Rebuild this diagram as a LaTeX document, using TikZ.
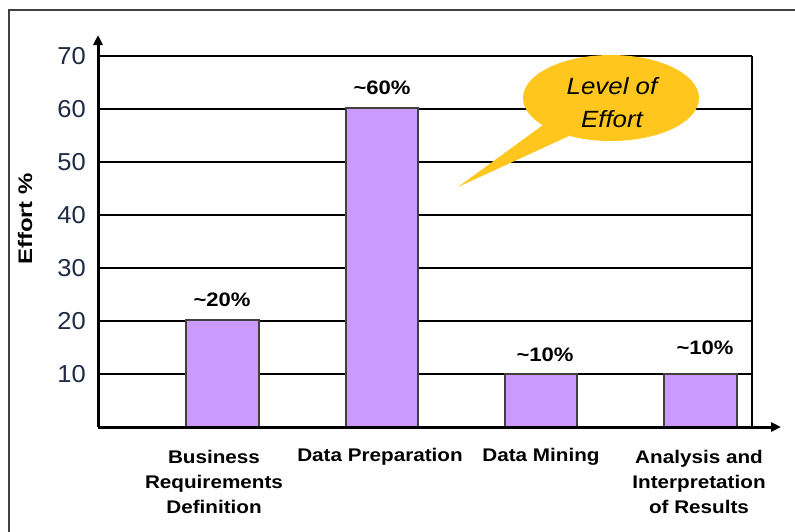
\documentclass[tikz,border=0pt]{standalone}
\usepackage{fontspec}
\setmainfont{Liberation Sans}
\newfontfamily\lblf{Liberation Sans}[FakeStretch=1.13]
\newfontfamily\tickf{Liberation Sans}[FakeStretch=1.04]
\newfontfamily\efff{Liberation Sans}[FakeStretch=1.22]
\newfontfamily\bubf{Liberation Sans}[FakeStretch=1.1]
\usetikzlibrary{arrows.meta}
\definecolor{barfill}{HTML}{CC99FF}
\definecolor{bubble}{HTML}{FFC61E}
\definecolor{ticktext}{HTML}{1F2A44}
\definecolor{frame}{HTML}{404040}
\tikzset{
  grid/.style={line width=2.2pt,black},
  axisline/.style={line width=3pt,black},
  barbox/.style={fill=barfill,draw=black!75,line width=1.1pt},
  ticklab/.style={anchor=east,inner sep=0pt,text=ticktext,font=\tickf\fontsize{24.5}{26}\selectfont},
  pct/.style={inner sep=0pt,font=\lblf\bfseries\fontsize{19.5}{21}\selectfont},
  catlab/.style={inner sep=0pt,align=center,font=\lblf\bfseries\fontsize{18.3}{25}\selectfont},
}
\begin{document}
\begin{tikzpicture}[x=1pt,y=-1pt]
\useasboundingbox (0,0) rectangle (795,531);
\fill[white] (0,0) rectangle (795,531);
% outer frame
\draw[frame,line width=1.5pt] (9,540) -- (9,10) -- (805,10);
% gridlines
\foreach \v in {10,20,30,40,50,60,70}{
  \draw[grid] (98,{427-5.3*\v}) -- (752,{427-5.3*\v});
}
\draw[grid] (752,56) -- (752,427);
% bars
\draw[barbox] (186,427) rectangle (259,320);
\draw[barbox] (346,427) rectangle (418,108);
\draw[barbox] (505,427) rectangle (577,374);
\draw[barbox] (664,427) rectangle (737,374);
% axes
\coordinate (o) at (98,427);
\coordinate (ytip) at (98,35);
\coordinate (xtip) at (781,427);
\draw[axisline,-{Triangle[length=10pt,width=9pt]}] (o) -- (ytip);
\draw[axisline,-{Triangle[length=10pt,width=9pt]}] (o) -- (xtip);
% tick labels
\foreach \v in {10,20,30,40,50,60,70}{
  \node[ticklab] (t\v) at (86,{427-5.3*\v}) {\v};
}
% axis title
\node[rotate=90,inner sep=0pt,font=\efff\bfseries\fontsize{19.6}{22}\selectfont] (ytitle) at (25,219) {Effort \%};
% value labels
\node[pct] (p1) at (222,300) {\char`\~20\%};
\node[pct] (p2) at (382,88) {\char`\~60\%};
\node[pct] (p3) at (545,355) {\char`\~10\%};
\node[pct] (p4) at (705,348) {\char`\~10\%};
% category labels
\node[catlab] (c1) at (214,482) {Business\\Requirements\\Definition};
\node[catlab] (c2) at (380,457) {Data Preparation};
\node[catlab] (c3) at (541,457) {Data Mining};
\node[catlab] (c4) at (699,482) {Analysis and\\Interpretation\\of Results};
% speech bubble
\fill[bubble] (543,125) -- (458,187) -- (569,136) -- cycle;
\fill[bubble] (611,98) ellipse [x radius=88, y radius=43];
\node[inner sep=0pt,align=center,font=\bubf\itshape\fontsize{23.5}{33}\selectfont] (bub) at (612,103) {Level of\\Effort};
\end{tikzpicture}
\end{document}
